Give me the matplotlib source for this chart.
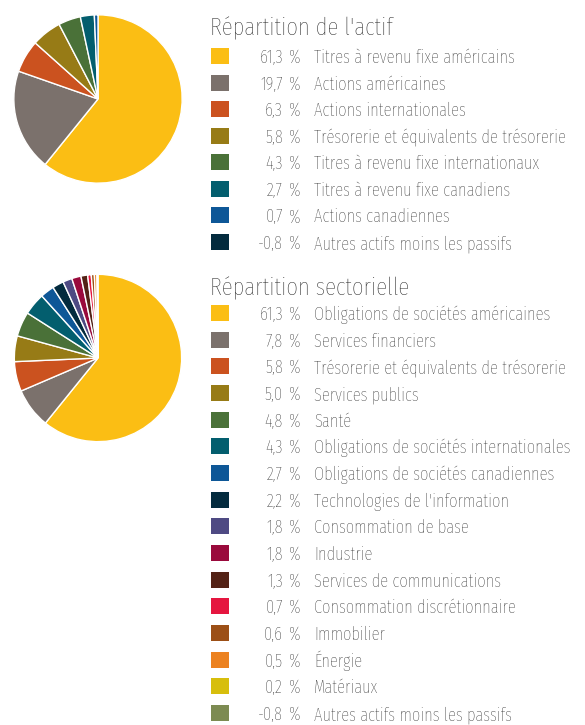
import matplotlib
matplotlib.use("Agg")
import matplotlib.pyplot as plt
from matplotlib.patches import Rectangle

# asset mix
asset_labels = ["Titres à revenu fixe américains", "Actions américaines", "Actions internationales",
                "Trésorerie et équivalents de trésorerie", "Titres à revenu fixe internationaux",
                "Titres à revenu fixe canadiens", "Actions canadiennes", "Autres actifs moins les passifs"]
asset_values = [61.3, 19.7, 6.3, 5.8, 4.3, 2.7, 0.7, -0.8]
asset_colors = ["#FBBE14", "#7B716C", "#CB521F", "#977B16", "#4A7138", "#035E6E", "#0E5797", "#032B3E"]

# sector mix
sector_labels = ["Obligations de sociétés américaines", "Services financiers",
                 "Trésorerie et équivalents de trésorerie", "Services publics", "Santé",
                 "Obligations de sociétés internationales", "Obligations de sociétés canadiennes",
                 "Technologies de l'information", "Consommation de base", "Industrie",
                 "Services de communications", "Consommation discrétionnaire", "Immobilier",
                 "Énergie", "Matériaux", "Autres actifs moins les passifs"]
sector_values = [61.3, 7.8, 5.8, 5.0, 4.8, 4.3, 2.7, 2.2, 1.8, 1.8, 1.3, 0.7, 0.6, 0.5, 0.2, -0.8]
sector_colors = ["#FBBE14", "#7B716C", "#CB521F", "#977B16", "#4A7138", "#035E6E", "#0E5797",
                 "#032B3E", "#4E4A83", "#9A0A3C", "#532216", "#E5163F", "#9C4F16", "#EC8220",
                 "#D7BE0C", "#7D8B52"]

W, H = 585, 725
TEXT_COLOR = "#1e1e1e"
ROW_SIZE = 13
TITLE_SIZE = 18

plt.rcParams["font.family"] = ["Fira Sans Extra Condensed", "Roboto Condensed", "DejaVu Sans"]
FONT = dict(weight="light")


def fmt(v):
    return "{:.1f}".format(v).replace(".", ",")


def draw_pie(fig, cx, cy, r, values, colors):
    ax = fig.add_axes([(cx - r) / W, 1 - (cy + r) / H, 2 * r / W, 2 * r / H])
    # the negative line can't be a wedge
    vals = [v for v in values if v > 0]
    cols = [c for v, c in zip(values, colors) if v > 0]
    ax.pie(vals, colors=cols, startangle=90, counterclock=False,
           wedgeprops=dict(edgecolor="white", linewidth=1.0))
    ax.set_xlim(-1.01, 1.01)
    ax.set_ylim(-1.01, 1.01)
    ax.set_aspect("equal")
    ax.axis("off")


def draw_legend(ax, title, title_y, first_y, step, labels, values, colors):
    ax.text(210, title_y, title, fontsize=TITLE_SIZE, color=TEXT_COLOR, va="baseline", **FONT)
    for i, (lab, val, col) in enumerate(zip(labels, values, colors)):
        yc = first_y + i * step
        ax.add_patch(Rectangle((211, yc - 8), 18, 16, facecolor=col, edgecolor="none"))
        ax.text(283, yc + 7, fmt(val), ha="right", va="baseline", fontsize=ROW_SIZE, color=TEXT_COLOR, **FONT)
        ax.text(289, yc + 7, "%", ha="left", va="baseline", fontsize=ROW_SIZE, color=TEXT_COLOR, **FONT)
        ax.text(314, yc + 7, lab, ha="left", va="baseline", fontsize=ROW_SIZE, color=TEXT_COLOR, **FONT)


fig = plt.figure(figsize=(W / 100, H / 100), dpi=100)
fig.patch.set_facecolor("white")

draw_pie(fig, 98, 99, 85, asset_values, asset_colors)
draw_pie(fig, 98, 358, 84.5, sector_values, sector_colors)

overlay = fig.add_axes([0, 0, 1, 1])
overlay.set_xlim(0, W)
overlay.set_ylim(H, 0)
overlay.axis("off")

draw_legend(overlay, "Répartition de l'actif", 35, 56, 26.57, asset_labels, asset_values, asset_colors)
draw_legend(overlay, "Répartition sectorielle", 295, 313, 26.67, sector_labels, sector_values, sector_colors)

fig.savefig("out.png", dpi=100)
